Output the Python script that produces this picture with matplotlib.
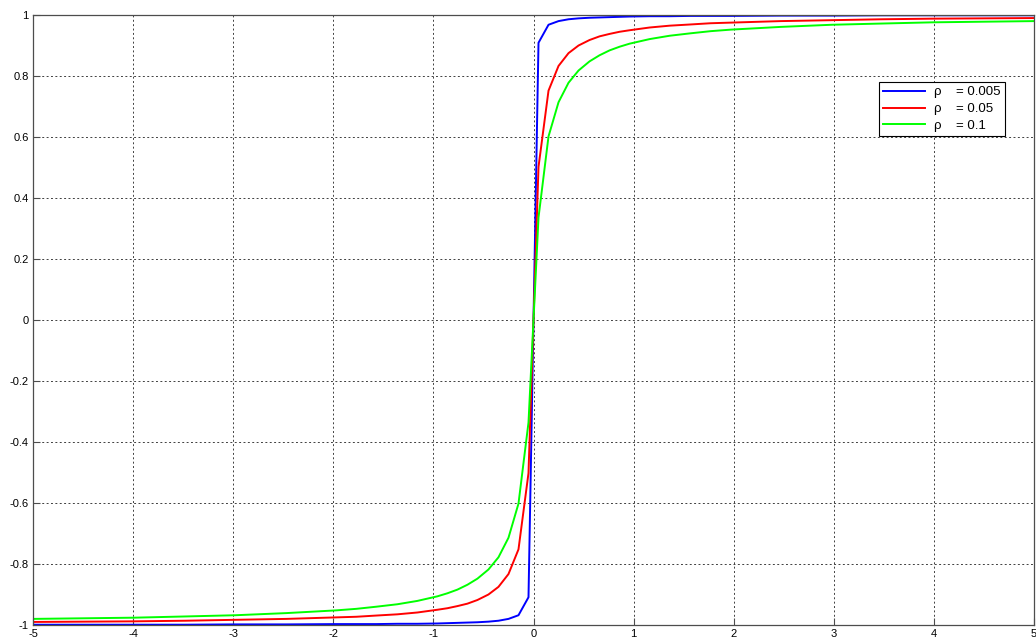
import matplotlib.pyplot as plt

plt.rcParams['font.family'] = ['Liberation Sans', 'DejaVu Sans']

# sample points (positive half, mirrored for the negative half)
x_pos = [0.05, 0.15, 0.25, 0.35, 0.45, 0.56, 0.66, 0.76, 0.86, 0.96,
         1.16, 1.36, 1.57, 1.77, 1.97, 2.47, 2.98, 3.48, 3.99, 4.49, 5.0]
y_rho_005 = [0.909, 0.968, 0.980, 0.986, 0.989, 0.991, 0.992, 0.993, 0.994, 0.995,
             0.996, 0.996, 0.997, 0.997, 0.997, 0.998, 0.998, 0.999, 0.999, 0.999, 0.999]
y_rho_05 = [0.502, 0.752, 0.833, 0.875, 0.900, 0.918, 0.930, 0.938, 0.945, 0.950,
            0.959, 0.965, 0.969, 0.973, 0.975, 0.980, 0.983, 0.986, 0.988, 0.989, 0.990]
y_rho_1 = [0.336, 0.602, 0.714, 0.778, 0.818, 0.848, 0.868, 0.884, 0.896, 0.906,
           0.921, 0.932, 0.940, 0.947, 0.952, 0.961, 0.968, 0.972, 0.976, 0.978, 0.980]

labels = ['ρ    = 0.005', 'ρ    = 0.05', 'ρ    = 0.1']
colors = ['#0000ff', '#ff0000', '#00ff00']
xticks = [-5, -4, -3, -2, -1, 0, 1, 2, 3, 4, 5]
yticks = [-1, -0.8, -0.6, -0.4, -0.2, 0, 0.2, 0.4, 0.6, 0.8, 1]
yticklabels = ['-1', '-0.8', '-0.6', '-0.4', '-0.2', '0', '0.2', '0.4', '0.6', '0.8', '1']

def mirror(v):
    return [-a for a in v[::-1]] + v

x = mirror(x_pos)

fig = plt.figure(figsize=(10.36, 6.42), dpi=100)
ax = fig.add_axes([33 / 1036, 17 / 642, 1001 / 1036, 610 / 642])

for ys, c, lab in zip([y_rho_005, y_rho_05, y_rho_1], colors, labels):
    ax.plot(x, mirror(ys), color=c, lw=1.4, label=lab)

ax.set_xlim(-5, 5)
ax.set_ylim(-1, 1)
ax.set_xticks(xticks)
ax.set_xticklabels([str(t) for t in xticks])
ax.set_yticks(yticks)
ax.set_yticklabels(yticklabels)
ax.tick_params(direction='in', length=5, width=0.8, labelsize=8, color='0.3', pad=3)
ax.grid(True, color='0.25', linestyle=(0, (2, 2.5)), linewidth=0.7)
for s in ax.spines.values():
    s.set_color('0.3')
    s.set_linewidth(0.9)

leg = ax.legend(loc='upper left', bbox_to_anchor=(0.845, 0.890), fontsize=9.5,
                handlelength=3.2, handletextpad=0.7, fancybox=False, framealpha=1,
                borderaxespad=0, borderpad=0.3, labelspacing=0.35)
leg.get_frame().set_edgecolor('black')
leg.get_frame().set_linewidth(0.8)

fig.savefig('out.png', dpi=100)
